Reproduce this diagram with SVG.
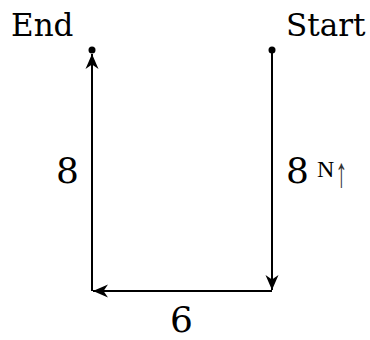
<svg xmlns="http://www.w3.org/2000/svg" width="370" height="340" viewBox="0 0 370 340">
<style>
.t{font-family:"DejaVu Serif","Liberation Serif",serif;fill:#000}
.lbl{font-size:31px}
.num{font-size:36px}
.sm{font-family:"Liberation Serif",serif;font-size:24px;fill:#000}
.ar{fill:#333}
.ln{stroke:#000;stroke-width:2;fill:none}
</style>
<defs>
<marker id="ah" markerUnits="userSpaceOnUse" markerWidth="20" markerHeight="16" viewBox="-16 -8 17 16" refX="0" refY="0" orient="auto">
<path d="M0,0 L-15,-6.5 L-10.5,0 L-15,6.5 Z" fill="#000"/>
</marker>
</defs>
<rect width="370" height="340" fill="#fff"/>
<g id="connectors">
<path class="ln" d="M272,50 L272,290" marker-end="url(#ah)"/>
<path class="ln" d="M272,291 L93,291" marker-end="url(#ah)"/>
<path class="ln" d="M92,291 L92,54" marker-end="url(#ah)"/>
</g>
<g id="start">
<circle cx="272" cy="50" r="3.5" fill="#000"/>
<text class="t lbl" x="286" y="36">Start</text>
</g>
<g id="end">
<circle cx="92" cy="50" r="3.5" fill="#000"/>
<text class="t lbl" x="11" y="36">End</text>
</g>
<g id="labels">
<text class="t num" x="56" y="183">8</text>
<text class="t num" x="286" y="183">8</text>
<g id="north">
<text class="sm" x="317" y="177">N</text>
<text class="sm ar" transform="translate(335.5,187) scale(1,1.75)">↑</text>
</g>
<text class="t num" x="170" y="332">6</text>
</g>
</svg>
